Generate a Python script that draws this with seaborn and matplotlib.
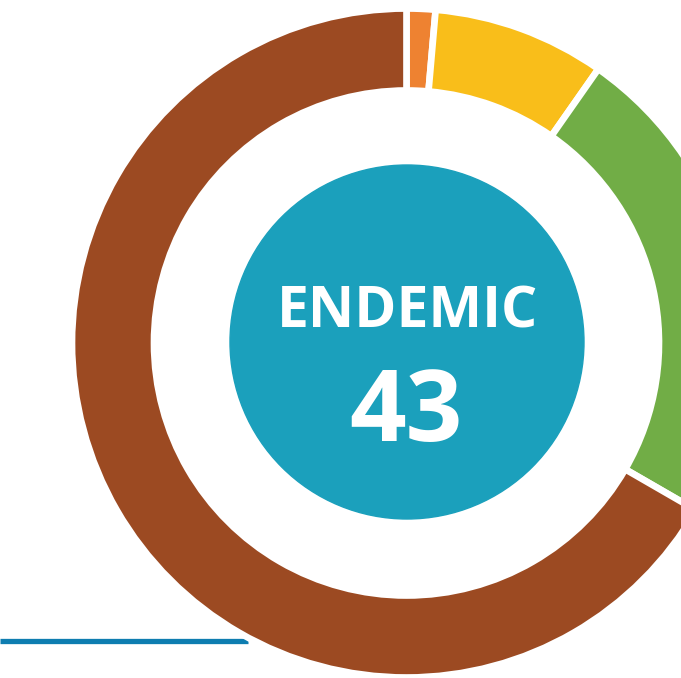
import matplotlib
matplotlib.use("Agg")
import matplotlib.pyplot as plt
import seaborn as sns
from matplotlib.patches import Circle

sns.set_theme(style="white")
plt.rcParams['font.family'] = ['Open Sans', 'DejaVu Sans']

# Data
categories = ["Orange group", "Yellow group", "Green group", "Brown group"]
values = [1, 6, 17, 48]
colors = ["#EE8231", "#F9BE1A", "#71AD46", "#9C4A22"]
center_label = "ENDEMIC"
center_value = "43"

W, H = 681, 678
fig = plt.figure(figsize=(W / 100, H / 100), dpi=100)
ax = fig.add_axes([0, 0, 1, 1])
ax.set_xlim(0, W)
ax.set_ylim(0, H)
ax.set_aspect("equal")
ax.axis("off")

cx, cy = 406.5, H - 343
r_out = 334.5
ring = 82

# accent line on the lower left
ax.plot([0, 248], [H - 641, H - 641], color="#0E7DB0", lw=3.8,
        solid_capstyle="butt", zorder=1)

ax.pie(values, colors=colors, startangle=90, counterclock=False,
       center=(cx, cy), radius=r_out, frame=True,
       wedgeprops=dict(width=ring, edgecolor="white", linewidth=4.8))
ax.set_xlim(0, W)
ax.set_ylim(0, H)
ax.axis("off")

ax.add_patch(Circle((407, H - 342), 177, color="#1BA0BC", zorder=5))
ax.text(408, H - 305, center_label, color="white", fontsize=41,
        fontweight="bold", ha="center", va="center_baseline", zorder=6)
ax.text(406, H - 403, center_value, color="white", fontsize=71.5,
        fontweight="bold", ha="center", va="center_baseline", zorder=6)

fig.savefig("out.png", dpi=100, facecolor="white")
